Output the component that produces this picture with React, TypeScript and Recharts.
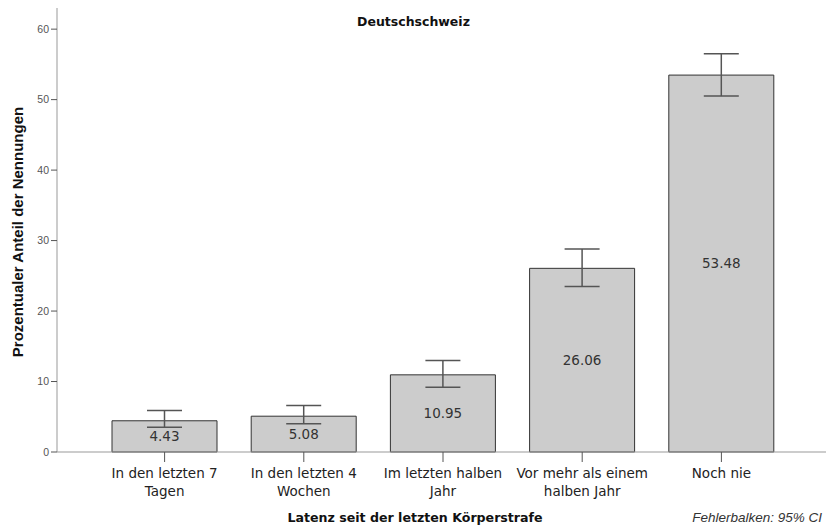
import React from 'react';
import { BarChart, Bar, XAxis, YAxis, ErrorBar, LabelList } from 'recharts';

// Latenz seit der letzten Körperstrafe – Deutschschweiz
const categories = [
  'In den letzten 7|Tagen',
  'In den letzten 4|Wochen',
  'Im letzten halben|Jahr',
  'Vor mehr als einem|halben Jahr',
  'Noch nie',
];
const percentages = [4.43, 5.08, 10.95, 26.06, 53.48];
const ciLower = [3.5, 4.0, 9.2, 23.5, 50.5];
const ciUpper = [5.9, 6.6, 13.0, 28.8, 56.5];
const yTicks = [0, 10, 20, 30, 40, 50, 60];

const data = categories.map((c, i) => ({
  name: c,
  value: percentages[i],
  err: [percentages[i] - ciLower[i], ciUpper[i] - percentages[i]],
}));

const CategoryTick = (props: any) => {
  const { x, y, payload } = props;
  const lines = String(payload.value).split('|');
  return (
    <g transform={`translate(${x},${y})`}>
      {lines.map((l, i) => (
        <text key={i} x={0} y={14 + i * 18} textAnchor="middle" fill="#222"
          style={{ fontFamily: 'DejaVu Sans', fontSize: 13.5 }}>
          {l}
        </text>
      ))}
    </g>
  );
};

export default function App() {
  return (
    <div style={{ position: 'absolute', left: 0, top: 0, width: 827, height: 531, background: '#fff' }}>
      <BarChart width={827} height={531} data={data}
        margin={{ top: 8, right: 1, bottom: 0, left: 0 }} barCategoryGap={0}>
        <XAxis dataKey="name" tick={<CategoryTick />} interval={0} height={79}
          padding={{ left: 38, right: 35 }}
          stroke="#999" tickSize={10} tickLine={{ stroke: '#555' }} />
        <YAxis type="number" domain={[0, 63]} ticks={yTicks} width={57}
          stroke="#999" tickSize={6} tickLine={{ stroke: '#555' }}
          tick={{ fill: '#555', fontSize: 10.5, fontFamily: 'Liberation Sans' }} />
        <Bar dataKey="value" fill="#cccccc" stroke="#333" strokeWidth={1}
          barSize={105} isAnimationActive={false}>
          <LabelList dataKey="value" position="center" fill="#333"
            style={{ fontFamily: 'DejaVu Sans', fontSize: 13.5 }}
            formatter={(v: any) => Number(v).toFixed(2)} />
          <ErrorBar dataKey="err" width={17.5} stroke="#555" strokeWidth={1.5}
            isAnimationActive={false} />
        </Bar>
      </BarChart>
      <div style={{ position: 'absolute', left: 0, width: 827, top: 14, textAlign: 'center',
        fontFamily: 'DejaVu Sans', fontWeight: 'bold', fontSize: 12.5, color: '#111' }}>
        Deutschschweiz
      </div>
      <div style={{ position: 'absolute', left: 17, top: 232, width: 0, height: 0 }}>
        <div style={{ position: 'absolute', transform: 'translate(-50%, -50%) rotate(-90deg)',
          whiteSpace: 'nowrap', fontFamily: 'Liberation Sans', fontWeight: 'bold', fontSize: 15, color: '#111' }}>
          Prozentualer Anteil der Nennungen
        </div>
      </div>
      <div style={{ position: 'absolute', left: 215, width: 400, top: 510, textAlign: 'center',
        fontFamily: 'DejaVu Sans', fontWeight: 'bold', fontSize: 12.6, color: '#111' }}>
        Latenz seit der letzten Körperstrafe
      </div>
      <div style={{ position: 'absolute', right: 5, top: 510,
        fontFamily: 'Liberation Sans', fontStyle: 'italic', fontSize: 13.5, color: '#333' }}>
        Fehlerbalken: 95% CI
      </div>
    </div>
  );
}
